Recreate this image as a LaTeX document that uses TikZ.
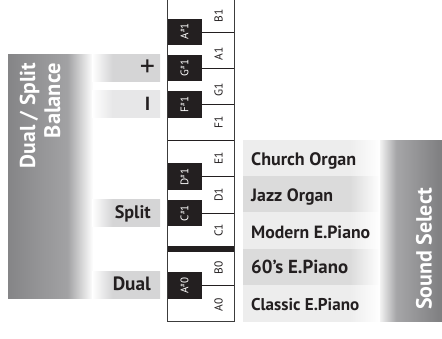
\documentclass[tikz,border=0pt]{standalone}
\usepackage{fontspec}
\setmainfont{PT Sans}
\definecolor{keyblack}{HTML}{231F20}
\definecolor{txt}{HTML}{231F20}
\definecolor{edge}{HTML}{3C3C3C}
\definecolor{lp1}{HTML}{858587}
\definecolor{lp2}{HTML}{A2A2A4}
\definecolor{rp1}{HTML}{F2F2F2}
\definecolor{rp2}{HTML}{A6A6A8}
\definecolor{rp3}{HTML}{7E7E80}
\definecolor{boxdark}{HTML}{D5D5D6}
\definecolor{boxlight}{HTML}{E7E7E8}
\definecolor{rowlight}{HTML}{EDEDED}
\definecolor{rowdark}{HTML}{DBDBDB}
\pgfdeclarehorizontalshading{leftpanel}{100bp}{color(0bp)=(lp1); color(25bp)=(lp1); color(60bp)=(lp2); color(75bp)=(white); color(100bp)=(white)}
\pgfdeclarehorizontalshading{rightpanel}{100bp}{color(0bp)=(rp1); color(25bp)=(rp1); color(38bp)=(rp2); color(75bp)=(rp3); color(100bp)=(rp3)}
\pgfdeclarehorizontalshading{darkbox}{100bp}{color(0bp)=(white); color(25bp)=(white); color(40bp)=(boxdark); color(100bp)=(boxdark)}
\pgfdeclarehorizontalshading{lightbox}{100bp}{color(0bp)=(white); color(25bp)=(white); color(40bp)=(boxlight); color(100bp)=(boxlight)}
\pgfdeclarehorizontalshading{rowL}{100bp}{color(0bp)=(rowlight); color(64bp)=(rowlight); color(75bp)=(white); color(100bp)=(white)}
\pgfdeclarehorizontalshading{rowD}{100bp}{color(0bp)=(rowdark); color(64bp)=(rowdark); color(75bp)=(white); color(100bp)=(white)}
\newcommand{\fitw}[2]{\resizebox{#1pt}{!}{#2}}
\newcommand{\shp}{\raisebox{0.6ex}{\fontsize{7}{7}\selectfont\#}}
\begin{document}
\begin{tikzpicture}[x=1pt,y=-1pt,
  wlab/.style={rotate=90, font=\fontsize{11.5}{11.5}\selectfont, text=txt, inner sep=0},
  blab/.style={rotate=90, font=\fontsize{11}{11}\selectfont, text=white, inner sep=0},
  bigtext/.style={rotate=90, font=\fontsize{19}{19}\selectfont\bfseries, text=white, inner sep=0},
  rowtext/.style={font=\fontsize{18}{18}\selectfont\bfseries, text=txt, inner sep=0, anchor=base west},
  sidetext/.style={font=\fontsize{18}{18}\selectfont\bfseries, text=txt, inner sep=0, anchor=base east},
  blackkey/.style={fill=keyblack, draw=none},
  divider/.style={draw=keyblack, line width=0.7pt},
]
\useasboundingbox (0,0) rectangle (442,338);
% ---------- left panel ----------
\shade[shading=leftpanel] (8,54.75) rectangle (93,298.65);
\node[bigtext, anchor=base east] (ds) at (35,63) {\fitw{105}{Dual / Split}};
\node[bigtext, anchor=base east] (bal) at (60,63) {\fitw{75}{Balance}};
% balance / split / dual boxes
\shade[shading=darkbox] (92,54.75) rectangle (160,81.45);
\shade[shading=lightbox] (92,90.95) rectangle (160,117.65);
\shade[shading=darkbox] (92,199.55) rectangle (160,226.25);
\shade[shading=darkbox] (92,271.95) rectangle (160,298.65);
\node[font=\fontsize{30}{30}\selectfont, text=txt, inner sep=0] (plus) at (147.5,68.1) {+};
\node[font=\fontsize{19}{19}\selectfont\bfseries, text=txt, inner sep=0] (minus) at (147.5,104.3) {I};
\node[sidetext] (split) at (151,218.5) {\fitw{36}{Split}};
\node[sidetext] (dual) at (151,290.7) {\fitw{38}{Dual}};
% ---------- keyboard ----------
\fill[white] (167.3,-1) rectangle (234,321.5);
\foreach \yy in {285.3,212.9,176.7,104.3,68.1,31.9}
  \draw[divider] (201.7,\yy) -- (234,\yy);
\draw[divider] (167.3,140.5) -- (234,140.5);
\fill[keyblack] (167.3,245.9) rectangle (234,252.3);
\foreach \yy in {285.3,212.9,176.7,104.3,68.1,31.9}
  \fill[blackkey] (167.3,\yy-13.35) rectangle (201.7,\yy+13.35);
\draw[edge, line width=0.9pt] (167.3,-1) -- (167.3,321.5) -- (234,321.5) -- (234,-1);
% white key labels
\node[wlab] (kB1) at (218.5,16) {B1};
\node[wlab] (kA1) at (218.5,54) {A1};
\node[wlab] (kG1) at (218.5,90) {G1};
\node[wlab] (kF1) at (218.5,122.5) {F1};
\node[wlab] (kE1) at (218.5,158.6) {E1};
\node[wlab] (kD1) at (218.5,194.8) {D1};
\node[wlab] (kC1) at (218.5,230.5) {C1};
\node[wlab] (kB0) at (218.5,268) {B0};
\node[wlab] (kA0) at (218.5,305) {A0};
% black key labels
\node[blab] (kAs1) at (184.5,31.3) {A\shp1};
\node[blab] (kGs1) at (184.5,67.8) {G\shp1};
\node[blab] (kFs1) at (184.5,104.3) {F\shp1};
\node[blab] (kDs1) at (184.5,176.7) {D\shp1};
\node[blab] (kCs1) at (184.5,213.1) {C\shp1};
\node[blab] (kAs0) at (184.5,285.6) {A\shp0};
% ---------- sound select ----------
\shade[shading=rowL] (243,140.5) rectangle (380,176.7);
\shade[shading=rowD] (243,176.7) rectangle (380,212.9);
\shade[shading=rowL] (243,212.9) rectangle (380,249.1);
\shade[shading=rowD] (243,249.1) rectangle (380,285.3);
\shade[shading=rowL] (243,285.3) rectangle (380,321.5);
\shade[shading=rightpanel] (380,140.5) rectangle (442,321.5);
\node[rowtext] (church) at (251,165.7) {\fitw{105}{Church Organ}};
\node[rowtext] (jazz) at (251,201.5) {\fitw{82}{Jazz Organ}};
\node[rowtext] (modern) at (251,238.1) {\fitw{119}{Modern E.Piano}};
\node[rowtext] (sixties) at (251,273.6) {\fitw{97}{60's E.Piano}};
\node[rowtext] (classic) at (251,310) {\fitw{108}{Classic E.Piano}};
\node[bigtext, anchor=base west] (ss) at (431.5,310) {\fitw{122}{Sound Select}};
\end{tikzpicture}
\end{document}
